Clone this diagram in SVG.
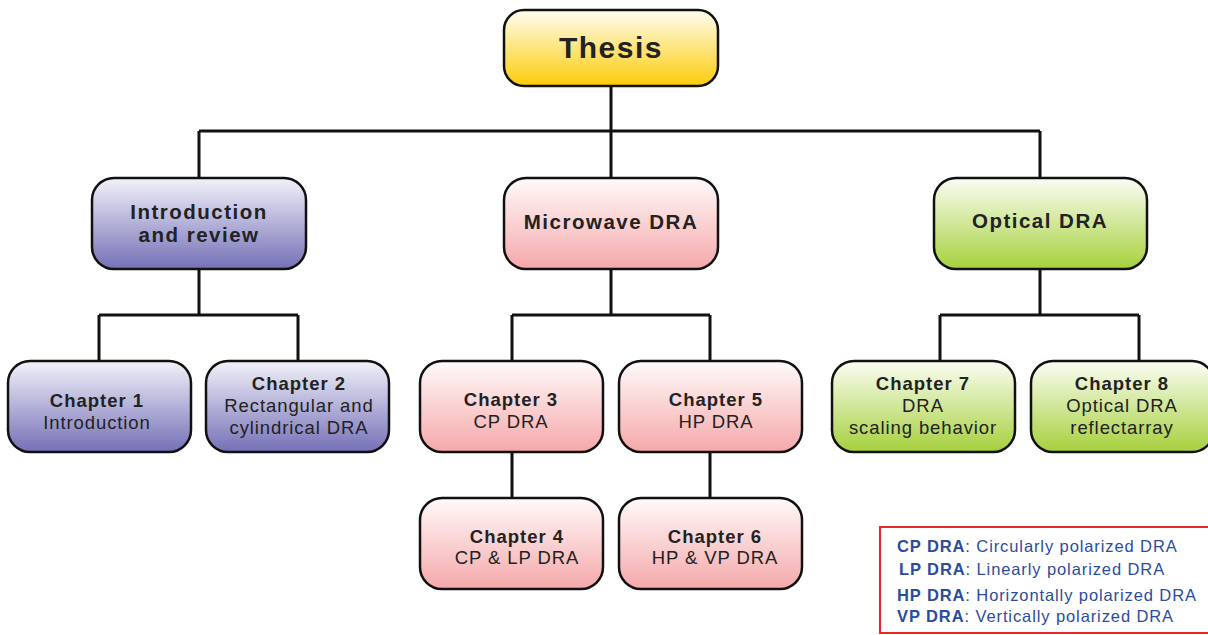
<svg xmlns="http://www.w3.org/2000/svg" width="1208" height="635" viewBox="0 0 1208 635">
<defs>
<linearGradient id="gY" x1="0" y1="0" x2="0" y2="1"><stop offset="0" stop-color="#fffdf0"/><stop offset="1" stop-color="#fccc0a"/></linearGradient>
<linearGradient id="gP" x1="0" y1="0" x2="0" y2="1"><stop offset="0" stop-color="#f2f2fa"/><stop offset="1" stop-color="#7470b6"/></linearGradient>
<linearGradient id="gR" x1="0" y1="0" x2="0" y2="1"><stop offset="0" stop-color="#fffafa"/><stop offset="1" stop-color="#f5a8aa"/></linearGradient>
<linearGradient id="gG" x1="0" y1="0" x2="0" y2="1"><stop offset="0" stop-color="#fbfdf4"/><stop offset="1" stop-color="#a6d03c"/></linearGradient>
</defs>
<style>
.box{stroke:#111;stroke-width:2.5}
.ln{stroke:#111;stroke-width:3;fill:none}
text{font-family:"Liberation Sans",Arial,sans-serif;fill:#222;text-anchor:middle}
.t0{font-size:30px;font-weight:bold;letter-spacing:1.5px}
.t1{font-size:20.5px;font-weight:bold;letter-spacing:1.5px}
.cb{font-size:18.5px;font-weight:bold;letter-spacing:1px}
.cn{font-size:18.5px;letter-spacing:0.9px}
.lg{font-size:16.5px;letter-spacing:0.9px;text-anchor:start;fill:#2b4c9e}
.lg tspan.b{font-weight:bold}
</style>
<g id="connectors">
<path class="ln" d="M611 86V178M199 131H1040M199 131V178M1040 131V178"/>
<path class="ln" d="M199 269V315M99 315H298M99 315V361M298 315V361"/>
<path class="ln" d="M611 269V315M512 315H710M512 315V361M710 315V361"/>
<path class="ln" d="M1040 269V315M940 315H1139M940 315V361M1139 315V361"/>
<path class="ln" d="M512 452V498M710 452V498"/>
</g>
<g id="thesis"><rect class="box" x="504" y="10" width="214" height="76" rx="20" fill="url(#gY)"/><text class="t0" x="611" y="58">Thesis</text></g>
<g id="intro"><rect class="box" x="92" y="178" width="214" height="91" rx="22" fill="url(#gP)"/><text class="t1" x="199" y="219">Introduction</text><text class="t1" x="199" y="242">and review</text></g>
<g id="microwave"><rect class="box" x="504" y="178" width="214" height="91" rx="22" fill="url(#gR)"/><text class="t1" x="611" y="229">Microwave DRA</text></g>
<g id="optical"><rect class="box" x="934" y="178" width="213" height="91" rx="22" fill="url(#gG)"/><text class="t1" x="1040" y="228">Optical DRA</text></g>
<g id="ch1"><rect class="box" x="8" y="361" width="183" height="91" rx="22" fill="url(#gP)"/><text class="cb" x="97" y="407">Chapter 1</text><text class="cn" x="97" y="429">Introduction</text></g>
<g id="ch2"><rect class="box" x="206" y="361" width="183" height="91" rx="22" fill="url(#gP)"/><text class="cb" x="299" y="390">Chapter 2</text><text class="cn" x="299" y="412">Rectangular and</text><text class="cn" x="299" y="434">cylindrical DRA</text></g>
<g id="ch3"><rect class="box" x="420" y="361" width="183" height="91" rx="22" fill="url(#gR)"/><text class="cb" x="511" y="406">Chapter 3</text><text class="cn" x="511" y="428">CP DRA</text></g>
<g id="ch5"><rect class="box" x="619" y="361" width="183" height="91" rx="22" fill="url(#gR)"/><text class="cb" x="716" y="406">Chapter 5</text><text class="cn" x="716" y="428">HP DRA</text></g>
<g id="ch4"><rect class="box" x="420" y="498" width="183" height="91" rx="22" fill="url(#gR)"/><text class="cb" x="517" y="543">Chapter 4</text><text class="cn" x="517" y="564">CP &amp; LP DRA</text></g>
<g id="ch6"><rect class="box" x="619" y="498" width="183" height="91" rx="22" fill="url(#gR)"/><text class="cb" x="715" y="543">Chapter 6</text><text class="cn" x="715" y="564">HP &amp; VP DRA</text></g>
<g id="ch7"><rect class="box" x="832" y="361" width="183" height="91" rx="22" fill="url(#gG)"/><text class="cb" x="923" y="390">Chapter 7</text><text class="cn" x="923" y="412">DRA</text><text class="cn" x="923" y="434">scaling behavior</text></g>
<g id="ch8"><rect class="box" x="1031" y="361" width="183" height="91" rx="22" fill="url(#gG)"/><text class="cb" x="1122" y="390">Chapter 8</text><text class="cn" x="1122" y="412">Optical DRA</text><text class="cn" x="1122" y="434">reflectarray</text></g>
<g id="legend">
<rect x="880" y="527" width="340" height="106" fill="#fff" stroke="#e8262a" stroke-width="2"/>
<text class="lg" x="897" y="552"><tspan class="b">CP DRA</tspan>: Circularly polarized DRA</text>
<text class="lg" x="899" y="575"><tspan class="b">LP DRA</tspan>: Linearly polarized DRA</text>
<text class="lg" x="897" y="601"><tspan class="b">HP DRA</tspan>: Horizontally polarized DRA</text>
<text class="lg" x="897" y="622"><tspan class="b">VP DRA</tspan>: Vertically polarized DRA</text>
</g>
</svg>
